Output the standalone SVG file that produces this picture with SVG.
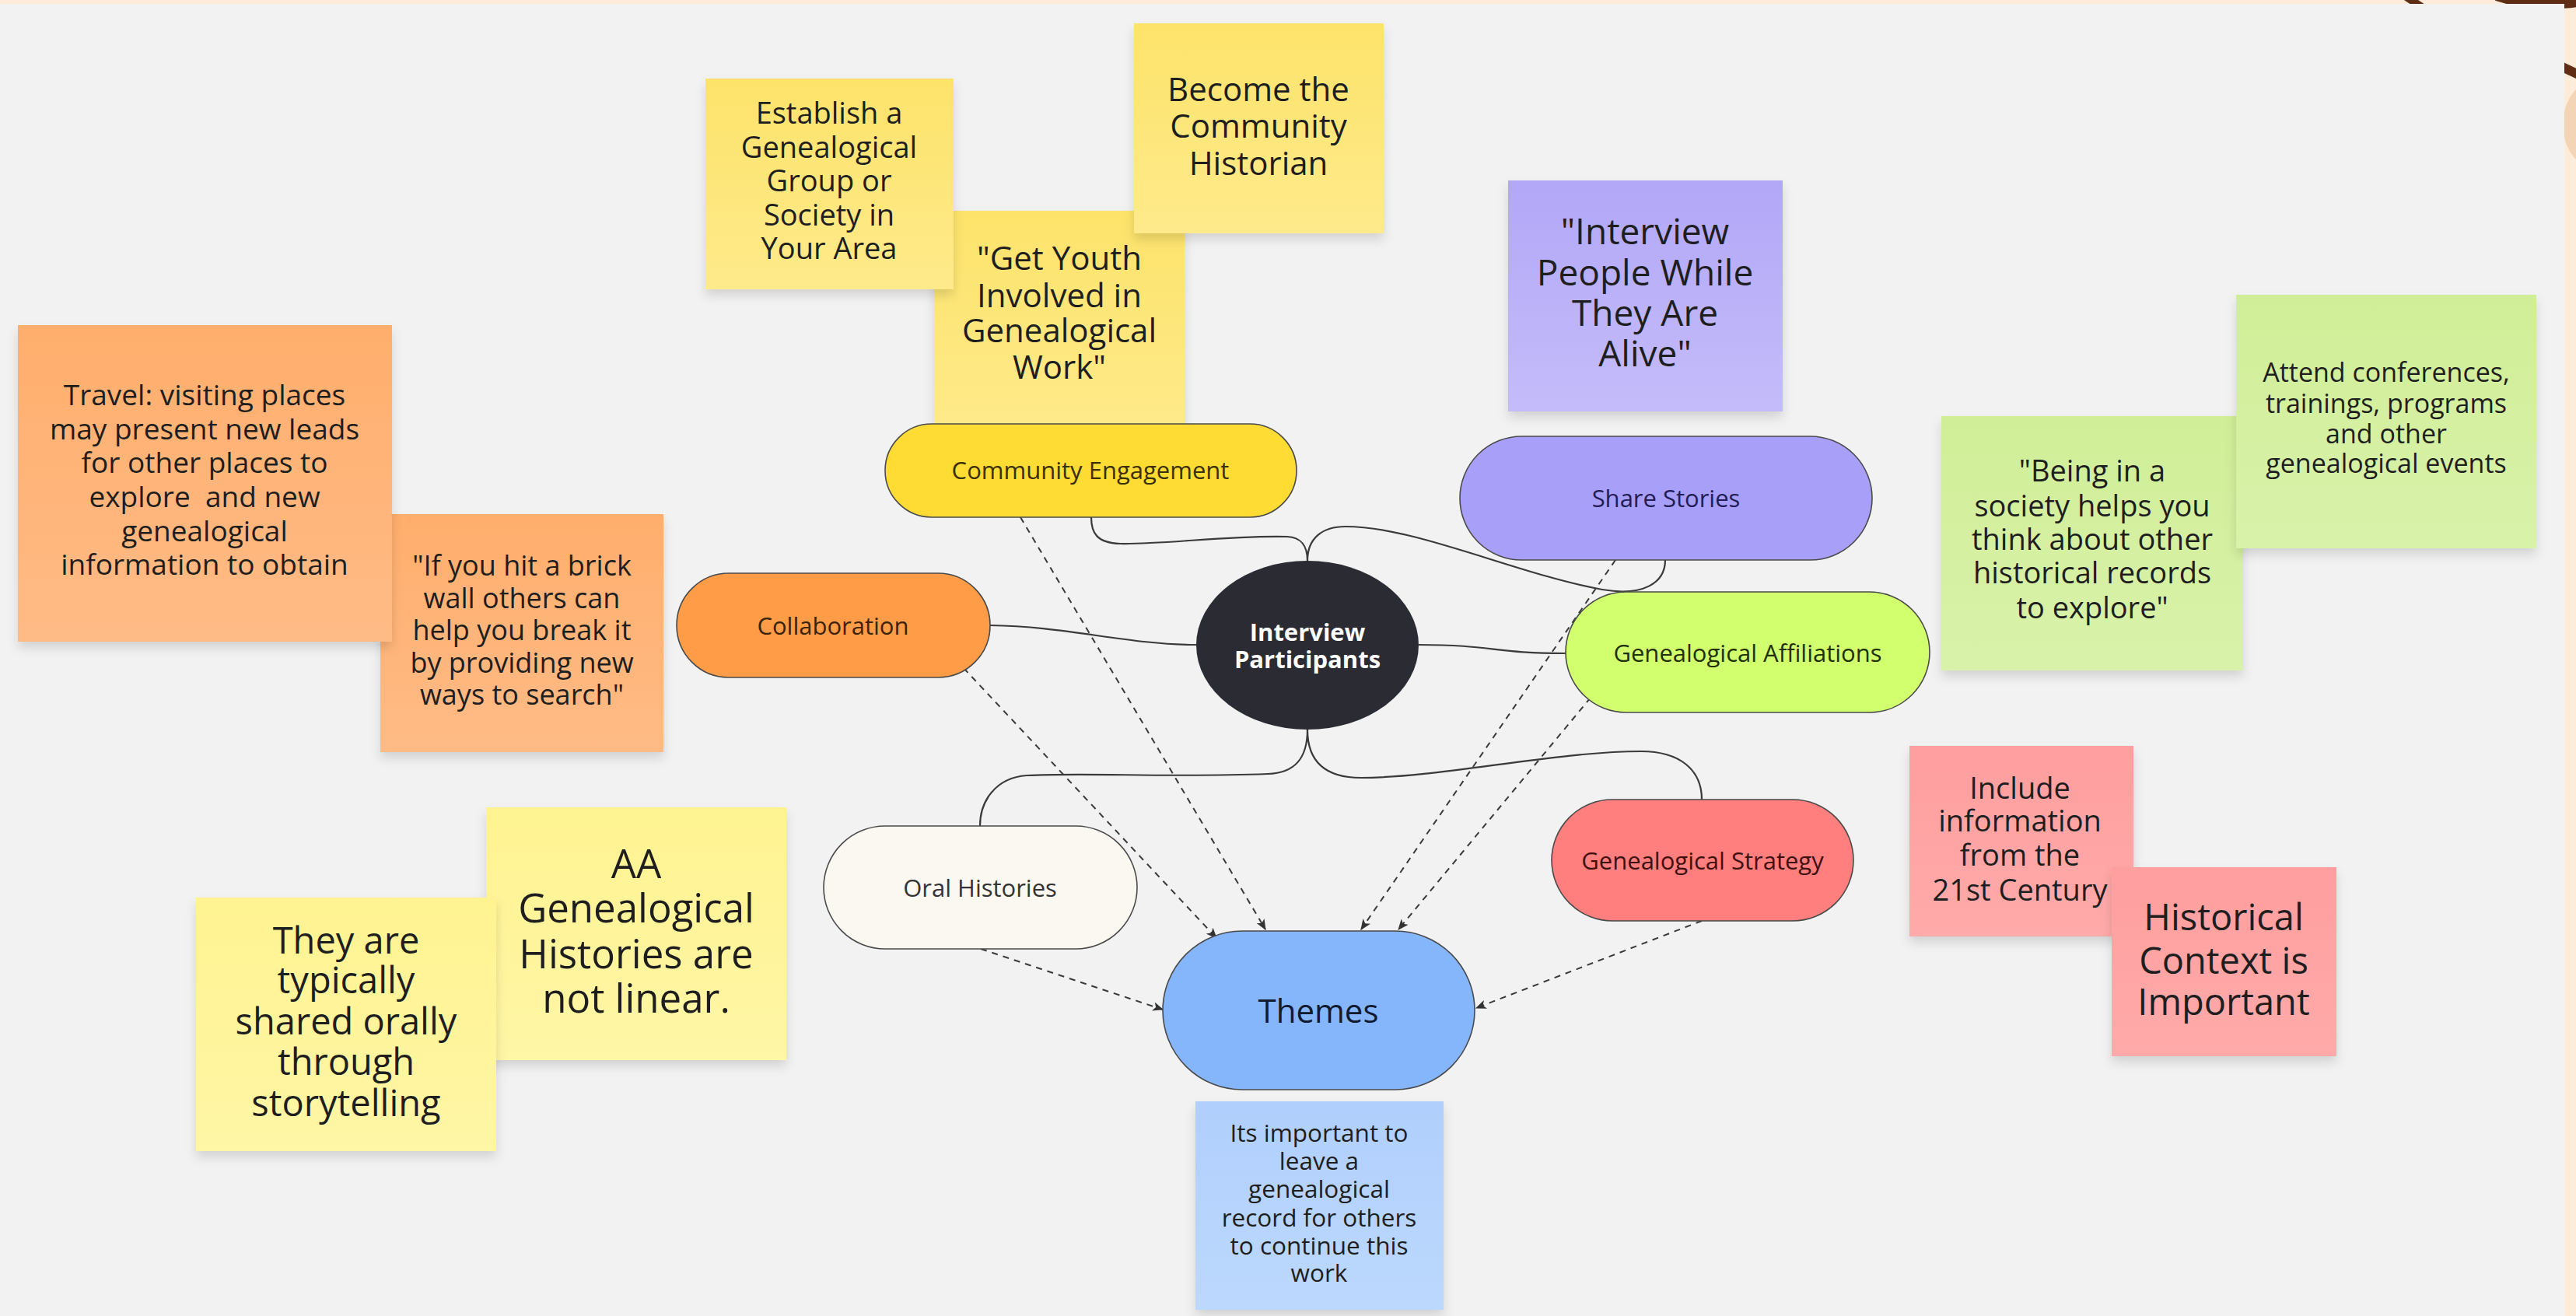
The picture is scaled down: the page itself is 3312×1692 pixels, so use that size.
<svg xmlns="http://www.w3.org/2000/svg" width="3312" height="1692" viewBox="0 0 3312 1692">
<defs>
<style>
.note text{font-family:"Open Sans","Liberation Sans",sans-serif;fill:#1e1e1e;text-anchor:middle}
.pill{stroke:#4a4a4a;stroke-width:1.6}
.lbl{font-family:"Open Sans","Liberation Sans",sans-serif;font-size:31px;text-anchor:middle}
.curve{fill:none;stroke:#3a3a3a;stroke-width:2.2}
.dash{fill:none;stroke:#3a3a3a;stroke-width:2;stroke-dasharray:8 7;marker-end:url(#arr)}
</style>
<filter id="sh" x="-10%" y="-10%" width="120%" height="125%">
<feDropShadow dx="0" dy="8" stdDeviation="7" flood-color="#000" flood-opacity="0.13"/>
</filter>
<linearGradient id="gY" x1="0" y1="0" x2="0" y2="1"><stop offset="0" stop-color="#fde36a"/><stop offset="1" stop-color="#feea8b"/></linearGradient>
<linearGradient id="gL" x1="0" y1="0" x2="0" y2="1"><stop offset="0" stop-color="#fff391"/><stop offset="1" stop-color="#fff6a6"/></linearGradient>
<linearGradient id="gO" x1="0" y1="0" x2="0" y2="1"><stop offset="0" stop-color="#ffae6c"/><stop offset="1" stop-color="#ffbb86"/></linearGradient>
<linearGradient id="gP" x1="0" y1="0" x2="0" y2="1"><stop offset="0" stop-color="#b2a7f7"/><stop offset="1" stop-color="#c4bcfa"/></linearGradient>
<linearGradient id="gG" x1="0" y1="0" x2="0" y2="1"><stop offset="0" stop-color="#d0ee97"/><stop offset="1" stop-color="#d9f2aa"/></linearGradient>
<linearGradient id="gR" x1="0" y1="0" x2="0" y2="1"><stop offset="0" stop-color="#ff9e9e"/><stop offset="1" stop-color="#ffaaaa"/></linearGradient>
<linearGradient id="gB" x1="0" y1="0" x2="0" y2="1"><stop offset="0" stop-color="#b0cffc"/><stop offset="1" stop-color="#bcd8fd"/></linearGradient>
<marker id="arr" viewBox="0 0 12 10" refX="11" refY="5" markerWidth="14" markerHeight="12" markerUnits="userSpaceOnUse" orient="auto">
<path d="M0,0 L12,5 L0,10 L3,5 z" fill="#333"/>
</marker>
</defs>

<!-- page background & decoration -->
<rect x="0" y="0" width="3312" height="1692" fill="#feecd8"/>
<ellipse cx="3345" cy="160" rx="50" ry="60" fill="#f3d4b6"/>
<path d="M3085,-10 L3115,10" stroke="#5e2d13" stroke-width="10" fill="none"/>
<path d="M3210,-5 Q3260,12 3320,2" stroke="#5e2d13" stroke-width="12" fill="none"/>
<path d="M3290,84 L3320,98" stroke="#5e2d13" stroke-width="12" fill="none"/>
<rect x="0" y="5" width="3297" height="1687" fill="#f2f2f2"/>

<!-- sticky notes -->
<g id="note-get-youth" class="note">
<rect x="1201" y="271" width="322" height="290" fill="url(#gY)" filter="url(#sh)"/>
<text font-size="42"><tspan x="1362" y="347">"Get Youth</tspan><tspan x="1362" y="395">Involved in</tspan><tspan x="1362" y="440">Genealogical</tspan><tspan x="1362" y="487">Work"</tspan></text>
</g>
<g id="note-establish" class="note">
<rect x="907" y="101" width="319" height="271" fill="url(#gY)" filter="url(#sh)"/>
<text font-size="38"><tspan x="1066" y="159">Establish a</tspan><tspan x="1066" y="203">Genealogical</tspan><tspan x="1066" y="246">Group or</tspan><tspan x="1066" y="290">Society in</tspan><tspan x="1066" y="333">Your Area</tspan></text>
</g>
<g id="note-become" class="note">
<rect x="1458" y="30" width="321" height="270" fill="url(#gY)" filter="url(#sh)"/>
<text font-size="42"><tspan x="1618" y="130">Become the</tspan><tspan x="1618" y="177">Community</tspan><tspan x="1618" y="225">Historian</tspan></text>
</g>
<g id="note-interview-alive" class="note">
<rect x="1939" y="232" width="353" height="297" fill="url(#gP)" filter="url(#sh)"/>
<text font-size="46"><tspan x="2115" y="314">"Interview</tspan><tspan x="2115" y="367">People While</tspan><tspan x="2115" y="419">They Are</tspan><tspan x="2115" y="471">Alive"</tspan></text>
</g>
<g id="note-brick-wall" class="note">
<rect x="489" y="661" width="364" height="306" fill="url(#gO)" filter="url(#sh)"/>
<text font-size="36"><tspan x="671" y="740">"If you hit a brick</tspan><tspan x="671" y="782">wall others can</tspan><tspan x="671" y="823">help you break it</tspan><tspan x="671" y="865">by providing new</tspan><tspan x="671" y="906">ways to search"</tspan></text>
</g>
<g id="note-travel" class="note">
<rect x="23" y="418" width="481" height="407" fill="url(#gO)" filter="url(#sh)"/>
<text font-size="37"><tspan x="263" y="521">Travel: visiting places</tspan><tspan x="263" y="565">may present new leads</tspan><tspan x="263" y="608">for other places to</tspan><tspan x="263" y="652" xml:space="preserve">explore  and new</tspan><tspan x="263" y="696">genealogical</tspan><tspan x="263" y="739">information to obtain</tspan></text>
</g>
<g id="note-aa-histories" class="note">
<rect x="625" y="1038" width="386" height="325" fill="url(#gL)" filter="url(#sh)"/>
<text font-size="51"><tspan x="818" y="1129">AA</tspan><tspan x="818" y="1186">Genealogical</tspan><tspan x="818" y="1245">Histories are</tspan><tspan x="818" y="1302">not linear.</tspan></text>
</g>
<g id="note-shared-orally" class="note">
<rect x="252" y="1154" width="386" height="326" fill="url(#gL)" filter="url(#sh)"/>
<text font-size="47"><tspan x="445" y="1226">They are</tspan><tspan x="445" y="1277">typically</tspan><tspan x="445" y="1330">shared orally</tspan><tspan x="445" y="1382">through</tspan><tspan x="445" y="1435">storytelling</tspan></text>
</g>
<g id="note-being-society" class="note">
<rect x="2496" y="535" width="388" height="327" fill="url(#gG)" filter="url(#sh)"/>
<text font-size="38"><tspan x="2690" y="619">"Being in a</tspan><tspan x="2690" y="664">society helps you</tspan><tspan x="2690" y="707">think about other</tspan><tspan x="2690" y="750">historical records</tspan><tspan x="2690" y="795">to explore"</tspan></text>
</g>
<g id="note-attend" class="note">
<rect x="2875" y="379" width="386" height="326" fill="url(#gG)" filter="url(#sh)"/>
<text font-size="34"><tspan x="3068" y="491">Attend conferences,</tspan><tspan x="3068" y="531">trainings, programs</tspan><tspan x="3068" y="570">and other</tspan><tspan x="3068" y="608">genealogical events</tspan></text>
</g>
<g id="note-include" class="note">
<rect x="2455" y="959" width="288" height="245" fill="url(#gR)" filter="url(#sh)"/>
<text font-size="38"><tspan x="2597" y="1027">Include</tspan><tspan x="2597" y="1069">information</tspan><tspan x="2597" y="1113">from the</tspan><tspan x="2597" y="1158">21st Century</tspan></text>
</g>
<g id="note-historical-context" class="note">
<rect x="2715" y="1115" width="289" height="243" fill="url(#gR)" filter="url(#sh)"/>
<text font-size="47"><tspan x="2859" y="1196">Historical</tspan><tspan x="2859" y="1252">Context is</tspan><tspan x="2859" y="1305">Important</tspan></text>
</g>
<g id="note-leave-record" class="note">
<rect x="1537" y="1416" width="319" height="268" fill="url(#gB)" filter="url(#sh)"/>
<text font-size="31.5"><tspan x="1696" y="1468">Its important to</tspan><tspan x="1696" y="1504">leave a</tspan><tspan x="1696" y="1540">genealogical</tspan><tspan x="1696" y="1577">record for others</tspan><tspan x="1696" y="1613">to continue this</tspan><tspan x="1696" y="1648">work</tspan></text>
</g>

<!-- connectors -->
<g id="connectors">
<path class="curve" d="M1681,721 C1681,700 1672,691 1655,690 C1580,688 1500,700 1440,699 C1410,698 1403,685 1403,665"/>
<path class="curve" d="M1681,721 C1681,692 1700,677 1730,677 C1820,677 1950,738 2060,758 C2112,767 2141,750 2141,720"/>
<path class="curve" d="M1538,829 C1450,829 1370,805 1273,804"/>
<path class="curve" d="M1824,829 C1920,829 1920,840 2013,840"/>
<path class="curve" d="M1681,938 C1681,975 1665,994 1630,995 C1500,1000 1400,993 1320,997 C1280,1000 1260,1030 1260,1062"/>
<path class="curve" d="M1681,938 C1681,975 1700,1000 1750,1000 C1850,1000 2000,966 2110,966 C2160,966 2188,990 2188,1028"/>
<path class="dash" d="M1312,665 L1627,1195"/>
<path class="dash" d="M1239,859 L1564,1206"/>
<path class="dash" d="M2077,720 L1750,1195"/>
<path class="dash" d="M2045,897 L1798,1195"/>
<path class="dash" d="M1261,1220 L1495,1298"/>
<path class="dash" d="M2188,1184 L1898,1296"/>
</g>

<!-- mind map nodes -->
<g id="node-community-engagement">
<rect class="pill" x="1138" y="545" width="529" height="120" rx="60" fill="#fedc34"/>
<text class="lbl" x="1402" y="616" fill="#3a2f05">Community Engagement</text>
</g>
<g id="node-share-stories">
<rect class="pill" x="1877" y="561" width="530" height="159" rx="79.5" fill="#a89ff9"/>
<text class="lbl" x="2142" y="652" fill="#221c55">Share Stories</text>
</g>
<g id="node-collaboration">
<rect class="pill" x="870" y="737" width="403" height="134" rx="67" fill="#fe9c47"/>
<text class="lbl" x="1071" y="816" fill="#3b2308">Collaboration</text>
</g>
<g id="node-genealogical-affiliations">
<rect class="pill" x="2013" y="761" width="468" height="155" rx="77.5" fill="#d1ff6e"/>
<text class="lbl" x="2247" y="851" fill="#1f3008">Genealogical Affiliations</text>
</g>
<g id="node-oral-histories">
<rect class="pill" x="1059" y="1062" width="403" height="158" rx="79" fill="#fbf8f2"/>
<text class="lbl" x="1260" y="1153" fill="#333333">Oral Histories</text>
</g>
<g id="node-genealogical-strategy">
<rect class="pill" x="1995" y="1028" width="388" height="156" rx="78" fill="#ff7e7e"/>
<text class="lbl" x="2189" y="1118" fill="#3f1010">Genealogical Strategy</text>
</g>
<g id="node-themes">
<rect class="pill" x="1495" y="1197" width="401" height="204" rx="102" fill="#85b6fb"/>
<text class="lbl" x="1695" y="1315" font-size="42" fill="#111a2e" style="font-size:42px">Themes</text>
</g>
<g id="node-interview-participants">
<ellipse cx="1681" cy="829.5" rx="143" ry="108.5" fill="#2b2b33"/>
<text x="1681" y="824" font-family="'Open Sans','Liberation Sans',sans-serif" font-size="31" font-weight="bold" fill="#ffffff" text-anchor="middle">Interview</text>
<text x="1681" y="859" font-family="'Open Sans','Liberation Sans',sans-serif" font-size="31" font-weight="bold" fill="#ffffff" text-anchor="middle">Participants</text>
</g>
</svg>
